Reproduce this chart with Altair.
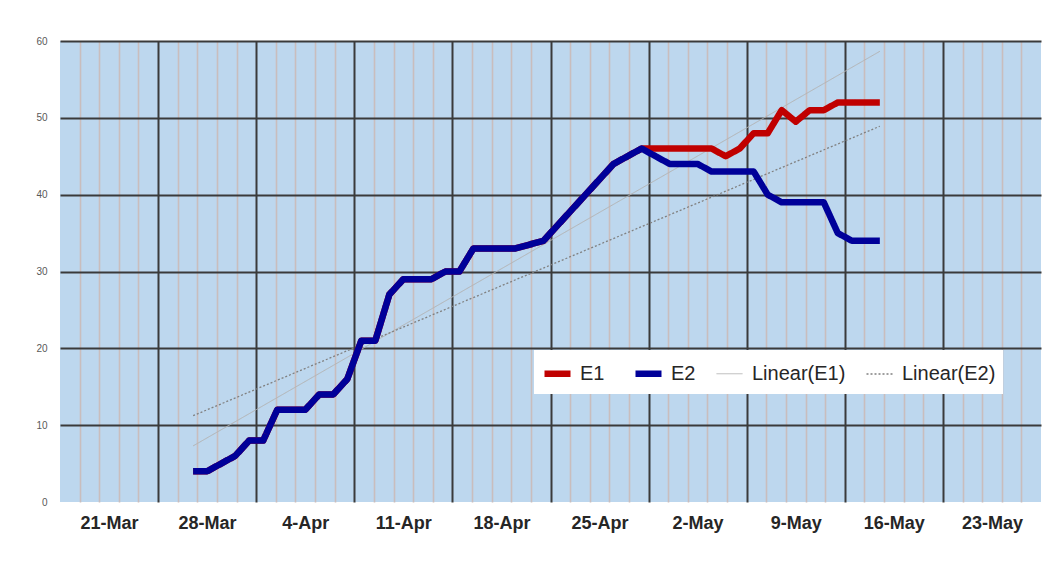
import datetime as dt
import altair as alt
import pandas as pd

# ---- data ----
dates = (
    ["2020-03-30", "2020-03-31"]
    + ["2020-04-%02d" % d for d in range(1, 31)]
    + ["2020-05-%02d" % d for d in range(1, 19)]
)
e2 = [4, 4, 5, 6, 8, 8, 12, 12, 12, 14, 14, 16, 21, 21, 27, 29, 29, 29, 30, 30,
      33, 33, 33, 33, 33.5, 34, 36, 38, 40, 42, 44, 45, 46,
      45, 44, 44, 44, 43, 43, 43, 43, 40, 39, 39, 39, 39, 35, 34, 34, 34]
e1 = e2[:33] + [46, 46, 46, 46, 46, 45, 46, 48, 48, 51, 49.5, 51, 51, 52, 52, 52, 52]

series_names = ["E1", "E2", "Linear(E1)", "Linear(E2)"]
series_colors = ["#C00000", "#000099", "#B4B4B4", "#808080"]
series_dash = [[1, 0], [1, 0], [1, 0], [2, 2]]
series_width = [6.5, 6.5, 1, 1.3]

df = pd.DataFrame({
    "date": dates + dates,
    "series": ["E1"] * len(dates) + ["E2"] * len(dates),
    "value": e1 + e2,
})

# ---- axis ticks: weekly major, minor = major/5 (Excel default) ----
start = dt.datetime(2020, 3, 21)
tick_vals = []
for k in range(50):
    t = start + dt.timedelta(minutes=2016 * k)
    tick_vals.append(alt.DateTime(year=t.year, month=t.month, date=t.day,
                                  hours=t.hour, minutes=t.minute))

MAJOR = "hours(datum.value) == 0 && minutes(datum.value) == 0"

x_axis = alt.Axis(
    values=tick_vals,
    grid=True,
    gridColor=alt.condition(MAJOR, alt.value("#3a3a3a"), alt.value("#c9bdbd")),
    gridWidth=alt.condition(MAJOR, alt.value(2), alt.value(1.6)),
    gridOpacity=alt.condition("datum.index == 0", alt.value(0), alt.value(1)),
    labelExpr="(hours(datum.value) == 0 && minutes(datum.value) == 0) ? timeFormat(datum.value, '%-d-%b') : ''",
    labelOffset=49,
    labelPadding=12,
    labelFont="Liberation Sans",
    labelFontSize=18,
    labelFontWeight="bold",
    labelColor="#262626",
    labelOverlap=False,
    labelBound=False,
    labelFlush=False,
    domain=False,
    ticks=False,
    title=None,
)

y_axis = alt.Axis(
    values=[0, 10, 20, 30, 40, 50, 60],
    grid=True,
    gridColor="#3a3a3a",
    gridWidth=2,
    gridOpacity=alt.condition("datum.value == 0", alt.value(0), alt.value(1)),
    labelFont="Liberation Sans",
    labelFontSize=10,
    labelColor="#595959",
    labelPadding=13,
    domain=False,
    ticks=False,
    title=None,
)

legend = alt.Legend(
    title=None,
    orient="none",
    legendX=474,
    legendY=309,
    direction="horizontal",
    columns=4,
    fillColor="white",
    padding=7,
    symbolType="stroke",
    symbolSize=676,
    labelFont="Liberation Sans",
    labelFontSize=20,
    labelColor="#262626",
    labelOffset=6,
    columnPadding=17,
)

x_scale = alt.Scale(domain=[alt.DateTime(year=2020, month=3, date=21),
                            alt.DateTime(year=2020, month=5, date=30)])
y_scale = alt.Scale(domain=[0, 60], nice=False)


def enc(ch):
    return ch.encode(
        x=alt.X("t:T", scale=x_scale, axis=x_axis),
        y=alt.Y("value:Q", scale=y_scale, axis=y_axis),
        color=alt.Color("series:N", scale=alt.Scale(domain=series_names, range=series_colors), legend=legend),
        strokeDash=alt.StrokeDash("series:N", scale=alt.Scale(type="ordinal", domain=series_names, range=series_dash), legend=legend),
        strokeWidth=alt.StrokeWidth("series:N", scale=alt.Scale(type="ordinal", domain=series_names, range=series_width), legend=legend),
    )


base = alt.Chart(df).transform_calculate(t="toDate(datum.date + 'T12:00:00')")

trend = enc(
    base.transform_regression("t", "value", groupby=["series"])
    .transform_calculate(series="'Linear(' + datum.series + ')'")
    .mark_line(strokeCap="butt")
)
line_e1 = enc(base.transform_filter("datum.series == 'E1'").mark_line(strokeJoin="round", strokeCap="butt"))
line_e2 = enc(base.transform_filter("datum.series == 'E2'").mark_line(strokeJoin="round", strokeCap="butt"))

chart = (
    alt.layer(trend, line_e1, line_e2)
    .properties(
        width=981,
        height=461,
        autosize=alt.AutoSizeParams(type="none"),
        padding={"left": 52, "top": 33, "right": 10, "bottom": 60},
        background="white",
    )
    .configure_view(stroke=None, fill="#BDD7EE")
)

chart.save("out.html", embed_options={"renderer": "svg", "actions": False})
